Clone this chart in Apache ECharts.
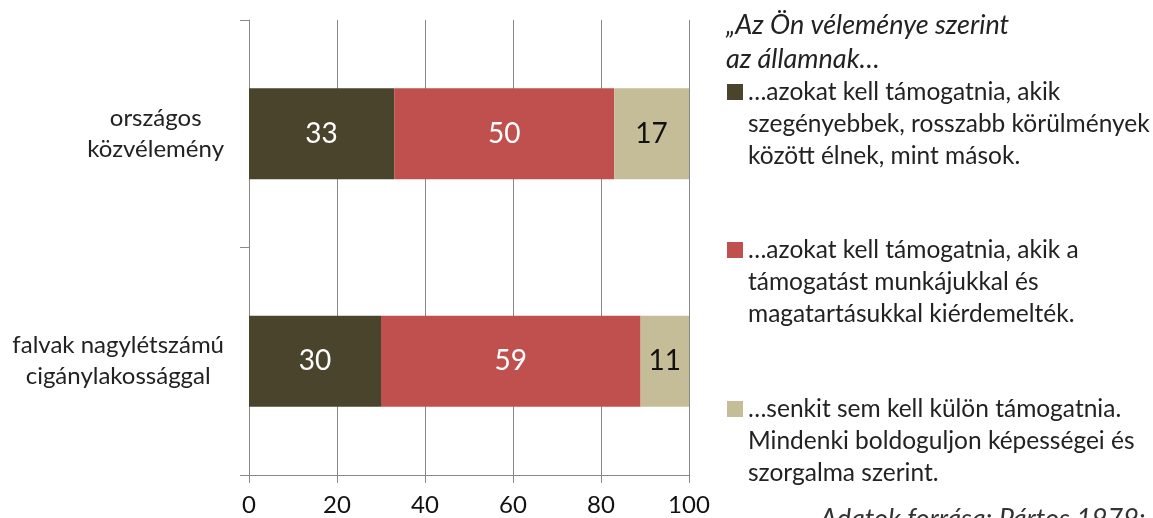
<!DOCTYPE html>
<html>
<head>
<meta charset="utf-8">
<script src="https://cdn.jsdelivr.net/npm/echarts@6/dist/echarts.min.js"></script>
<style>
  html, body { margin: 0; padding: 0; background: #fff; }
  #chart { width: 1153px; height: 518px; }
</style>
</head>
<body>
<div id="chart"></div>
<script>
const categories = ['országos\nközvélemény', 'falvak nagylétszámú\ncigánylakossággal'];
const seriesNames = ['szegenyebbek', 'kiérdemelték', 'senkit'];
const legendTexts = [
    '…azokat kell támogatnia, akik\nszegényebbek, rosszabb körülmények\nközött élnek, mint mások.',
    '…azokat kell támogatnia, akik a\ntámogatást munkájukkal és\nmagatartásukkal kiérdemelték.',
    '…senkit sem kell külön támogatnia.\nMindenki boldoguljon képességei és\nszorgalma szerint.'
];
const poorValues = [33, 30];
const earnedValues = [50, 59];
const nobodyValues = [17, 11];
const xTicks = [0, 20, 40, 60, 80, 100];

const colors = ['#4b442c', '#c0504d', '#c4bd97'];
const labelColors = ['#fff', '#fff', '#111'];
const FONT = 'Lato, "Open Sans", sans-serif';

const chart = echarts.init(document.getElementById('chart'));

const values = [poorValues, earnedValues, nobodyValues];
const legendCenters = [92, 250, 409];

chart.setOption({
    animation: false,
    title: [
        {
            text: '„Az Ön véleménye szerint\naz államnak…',
            left: 726, top: 8, padding: 0,
            textStyle: { fontFamily: FONT, fontSize: 27, fontStyle: 'italic', fontWeight: 'normal', color: '#222', lineHeight: 34 }
        },
        {
            text: 'Adatok forrása: Pártos 1979: 53',
            left: 820, top: 506, padding: 0,
            textStyle: { fontFamily: FONT, fontSize: 27, fontStyle: 'italic', fontWeight: 'normal', color: '#333' }
        }
    ],
    // the icon sits beside the first line: two empty lines put that line in the middle
    legend: seriesNames.map((name, i) => ({
        data: [name],
        left: 727,
        top: legendCenters[i] - 80,
        padding: 0,
        icon: 'rect',
        itemWidth: 16,
        itemHeight: 16,
        selectedMode: false,
        formatter: () => '\n\n' + legendTexts[i],
        textStyle: { fontFamily: FONT, fontSize: 24.5, lineHeight: 32, color: '#222' }
    })),
    grid: { left: 249, right: 464, top: 20, bottom: 43 },
    xAxis: {
        type: 'value',
        min: xTicks[0],
        max: xTicks[xTicks.length - 1],
        interval: 20,
        axisLine: { show: true, lineStyle: { color: '#888', width: 1 } },
        axisTick: { show: true, length: 8, lineStyle: { color: '#888' } },
        splitLine: { show: true, lineStyle: { color: '#888', width: 1 } },
        axisLabel: { margin: 18, fontFamily: FONT, fontSize: 24, color: '#111' }
    },
    yAxis: {
        type: 'category',
        inverse: true,
        data: categories,
        axisLine: { show: true, lineStyle: { color: '#888', width: 1 } },
        axisTick: { show: true, length: 9, lineStyle: { color: '#888' } },
        axisLabel: {
            margin: 25,
            formatter: v => v.split('\n').map(l => '{c|' + l + '}').join('\n'),
            rich: { c: { align: 'center', fontFamily: FONT, fontSize: 24, lineHeight: 31, color: '#222' } }
        }
    },
    series: seriesNames.map((name, i) => ({
        name: name,
        type: 'bar',
        stack: 'total',
        barWidth: 91,
        data: values[i],
        itemStyle: { color: colors[i] },
        label: {
            show: true,
            position: 'inside',
            color: labelColors[i],
            fontFamily: FONT,
            fontSize: 28
        }
    }))
});
</script>
</body>
</html>
